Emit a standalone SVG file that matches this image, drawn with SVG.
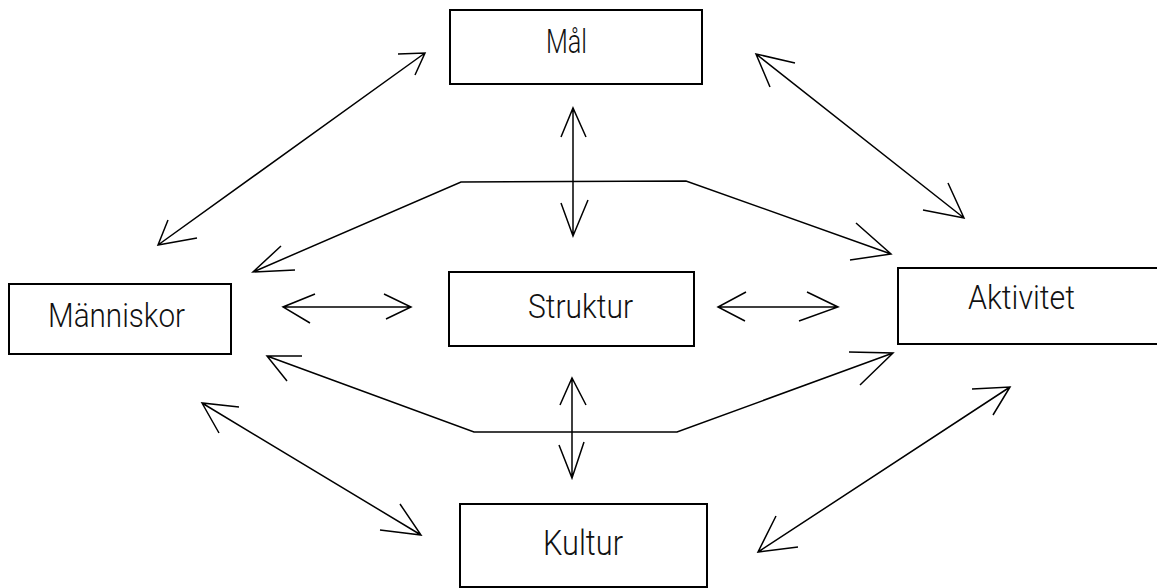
<svg xmlns="http://www.w3.org/2000/svg" width="1157" height="588" viewBox="0 0 1157 588">
<style>
.box{fill:#fff;stroke:#000;stroke-width:2}
.lbl{font-family:Roboto,"Liberation Sans","DejaVu Sans",sans-serif;font-weight:300;font-size:33px;fill:#111}
.ln{fill:none;stroke:#000;stroke-width:1.5}
</style>
<rect width="1157" height="588" fill="#fff"/>
<g id="connectors" class="ln">
<path d="M158,245 L425,53 M398,54 L425,53 L415,75 M197,238 L158,245 L168,220"/>
<path d="M756,54 L964,218 M795,63 L756,54 L770,87 M923,210 L964,218 L948,183"/>
<path d="M573,108 L573,236 M561,137 L573,108 L586,137 M561,203 L573,236 L588,200"/>
<path d="M253,272 L461,182 L686,181 L891,254 M295,270 L253,272 L281,246 M850,260 L891,254 L856,223"/>
<path d="M283,307 L411,307 M315,294 L283,307 L310,323 M384,294 L411,307 L386,319"/>
<path d="M718,307 L838,307 M746,292 L718,307 L745,321 M807,292 L838,307 L799,321"/>
<path d="M267,356 L474,432 L677,432 L893,353 M302,356 L267,356 L287,381 M849,352 L893,353 L860,385"/>
<path d="M572,378 L572,478 M560,405 L572,378 L586,405 M559,445 L572,478 L584,442"/>
<path d="M202,403 L421,535 M239,407 L202,403 L219,433 M380,530 L421,535 L400,504"/>
<path d="M1010,387 L758,552 M972,389 L1010,387 L993,415 M798,547 L758,552 L776,516"/>
</g>
<g id="mal"><rect class="box" x="450" y="10" width="252" height="74"/><text class="lbl" x="546" y="53" textLength="41" lengthAdjust="spacingAndGlyphs">Mål</text></g>
<g id="manniskor"><rect class="box" x="9" y="284" width="222" height="70"/><text class="lbl" x="48" y="327" textLength="137" lengthAdjust="spacingAndGlyphs">Människor</text></g>
<g id="struktur"><rect class="box" x="449" y="272" width="245" height="74"/><text class="lbl" x="528" y="318" textLength="105" lengthAdjust="spacingAndGlyphs">Struktur</text></g>
<g id="aktivitet"><rect class="box" x="898" y="268" width="270" height="76"/><text class="lbl" x="968" y="309" textLength="107" lengthAdjust="spacingAndGlyphs">Aktivitet</text></g>
<g id="kultur"><rect class="box" x="460" y="504" width="247" height="83"/><text class="lbl" x="543" y="555" textLength="80" lengthAdjust="spacingAndGlyphs" style="font-size:35px">Kultur</text></g>
</svg>
